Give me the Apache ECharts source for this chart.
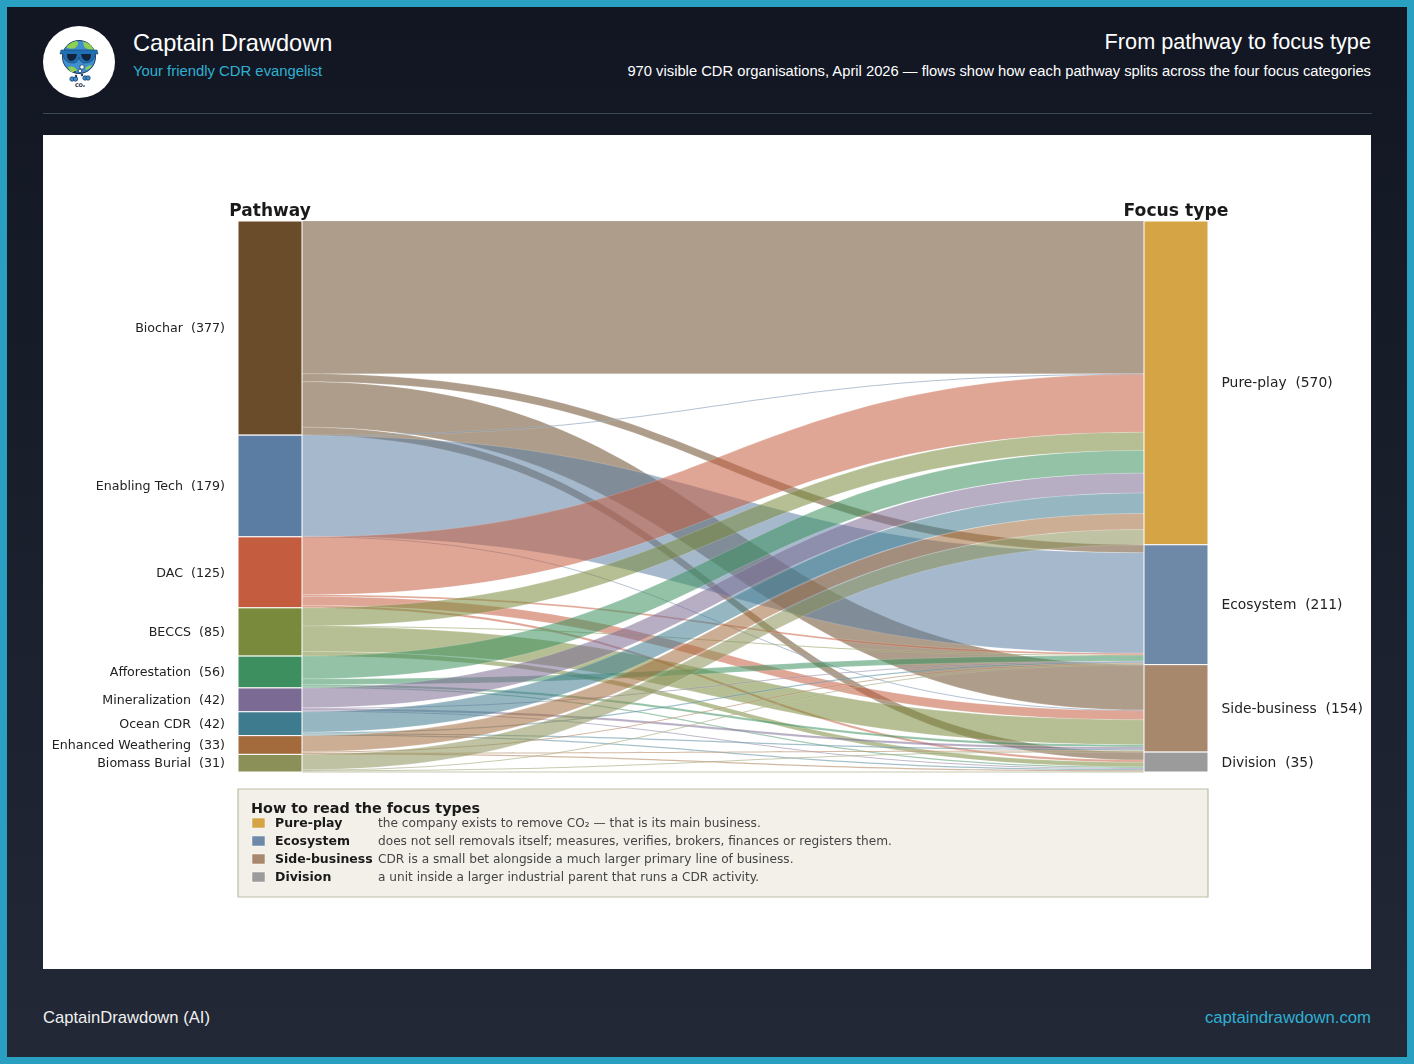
<!DOCTYPE html>
<html>
<head>
<meta charset="utf-8">
<title>From pathway to focus type</title>
<script src="https://cdn.jsdelivr.net/npm/echarts@6/dist/echarts.min.js"></script>
<style>
  html, body { margin: 0; padding: 0; }
  body { width: 1414px; height: 1064px; overflow: hidden; }
  #frame {
    position: relative; box-sizing: border-box; width: 1414px; height: 1064px;
    border: 7px solid #29a0c1;
    background: linear-gradient(180deg, #111622 0%, #222836 100%);
    font-family: "Liberation Sans", Arial, sans-serif;
  }
  #frame > div, #frame > svg { position: absolute; white-space: nowrap; }
  #logo { left: 36px; top: 19px; }
  #brand { left: 126px; top: 21px; font-size: 23.6px; line-height: 30px; color: #fff; }
  #tagline { left: 126px; top: 55px; font-size: 14.85px; line-height: 18px; color: #2fb0d2; }
  #title { right: 36px; top: 21px; font-size: 21.7px; line-height: 27px; color: #fff; }
  #subtitle { right: 36px; top: 55px; font-size: 14.75px; line-height: 18px; color: #fff; }
  #rule { left: 36px; top: 106px; width: 1329px; height: 1px; background: #3b4656; }
  #chart { left: 36px; top: 128px; width: 1328px; height: 834px; background: #fff; }
  #credit { left: 36px; top: 1001px; font-size: 16.6px; line-height: 20px; color: #f0f0f0; }
  #site { right: 36px; top: 1001px; font-size: 16.7px; line-height: 20px; color: #2fb0d2; }
</style>
</head>
<body>
<div id="frame">
  <svg id="logo" width="72" height="72" viewBox="0 0 72 72">
    <circle cx="36" cy="36" r="36" fill="#fff"/>
    <circle cx="36" cy="31" r="16.5" fill="#3f8fd0" stroke="#1d3f66" stroke-width="1"/>
    <path d="M23 21 q6 -6 11 -6 q3 3 -2 7 q-5 2 -9 -1z M40 15.5 q7 1 11 8 q-6 1 -10 -3z M25 41 q6 -2 9 3 q-3 4 -7 1z M42 42 q4 -3 7 -3 q-2 4 -6 5z" fill="#8fd14f"/>
    <path d="M18 24 h36 l1 4 h-3 q-1 9 -10 9 q-5 0 -6 -6 q-1 6 -6 6 q-9 0 -10 -9 h-3z" fill="#1f6fb5" stroke="#1d3f66" stroke-width=".6"/>
    <path d="M24 28 h10 q-1 7 -6 7 q-4 0 -4 -7z M38 28 h10 q0 7 -4 7 q-5 0 -6 -7z" fill="#14233c"/>
    <circle cx="39" cy="41" r="2.2" fill="#fff" stroke="#1d3f66" stroke-width=".8"/>
    <circle cx="37" cy="45" r="1.8" fill="#fff" stroke="#1d3f66" stroke-width=".8"/>
    <circle cx="32" cy="46" r="1" fill="#1d3f66"/>
    <circle cx="33" cy="50" r="1.2" fill="#1d3f66"/>
    <circle cx="39" cy="49" r="1.2" fill="#1d3f66"/>
    <circle cx="29" cy="53" r="2.2" fill="#3f8fd0" stroke="#1d3f66" stroke-width=".8"/>
    <circle cx="32.5" cy="53" r="2.2" fill="#3f8fd0" stroke="#1d3f66" stroke-width=".8"/>
    <circle cx="42" cy="52" r="2.2" fill="#3f8fd0" stroke="#1d3f66" stroke-width=".8"/>
    <circle cx="45" cy="52" r="2.2" fill="#3f8fd0" stroke="#1d3f66" stroke-width=".8"/>
    <text x="37" y="61" font-family="DejaVu Sans" font-size="5" font-weight="bold" text-anchor="middle" fill="#14233c">CO₂</text>
  </svg>
  <div id="brand">Captain Drawdown</div>
  <div id="tagline">Your friendly CDR evangelist</div>
  <div id="title">From pathway to focus type</div>
  <div id="subtitle">970 visible CDR organisations, April 2026 — flows show how each pathway splits across the four focus categories</div>
  <div id="rule"></div>
  <div id="chart"></div>
  <div id="credit">CaptainDrawdown (AI)</div>
  <div id="site">captaindrawdown.com</div>
</div>

<script>
var pathways = ['Biochar', 'Enabling Tech', 'DAC', 'BECCS', 'Afforestation', 'Mineralization', 'Ocean CDR', 'Enhanced Weathering', 'Biomass Burial'];
var focusTypes = ['Pure-play', 'Ecosystem', 'Side-business', 'Division'];

// organisations per pathway, same order as pathways
var toPurePlay = [269, 1, 102, 32, 40, 35, 36, 28, 27];
var toEcosystem = [14, 177, 3, 1, 10, 1, 2, 2, 1];
var toSideBusiness = [80, 1, 16, 44, 4, 4, 2, 1, 2];
var toDivision = [14, 0, 4, 8, 2, 2, 2, 2, 1];
var flows = [toPurePlay, toEcosystem, toSideBusiness, toDivision];

var pathwayColors = ['#6b4c2a', '#5b7da3', '#c45c40', '#7a8a3c', '#3d8f5f', '#7b6b94', '#3f7b8f', '#a36b3c', '#8a9058'];
var focusColors = ['#d4a445', '#6e88a8', '#a8886c', '#9b9b9b'];

var legendNotes = [
    'the company exists to remove CO₂ — that is its main business.',
    'does not sell removals itself; measures, verifies, brokers, finances or registers them.',
    'CDR is a small bet alongside a much larger primary line of business.',
    'a unit inside a larger industrial parent that runs a CDR activity.'
];

// panel starts at (43,135) on the page
var panelX = 43, panelY = 135;

var nodes = [];
pathways.forEach(function(name, i) {
    nodes.push({
        name: name,
        itemStyle: {color: pathwayColors[i]},
        label: {position: 'left', distance: 12.5, fontSize: 12.65}
    });
});
focusTypes.forEach(function(name, i) {
    nodes.push({
        name: name,
        itemStyle: {color: focusColors[i]},
        label: {position: 'right', distance: 13, fontSize: 13.85}
    });
});

var links = [];
pathways.forEach(function(source, i) {
    focusTypes.forEach(function(target, j) {
        if (flows[j][i] > 0) {
            links.push({source: source, target: target, value: flows[j][i]});
        }
    });
});

const pageText = function(x, y, text, font, fill, align) {
    return {
        type: 'text',
        x: x - panelX,
        y: y - panelY,
        silent: true,
        style: {text: text, font: font, fill: fill, align: align || 'left', verticalAlign: 'middle'}
    };
}

var graphics = [
    pageText(270, 212, 'Pathway', 'bold 17px "DejaVu Sans"', '#1a1a1a', 'center'),
    pageText(1176, 212, 'Focus type', 'bold 17.2px "DejaVu Sans"', '#1a1a1a', 'center'),
    {
        type: 'rect',
        x: 238 - panelX,
        y: 789 - panelY,
        silent: true,
        shape: {width: 970, height: 108},
        style: {fill: '#f3f0e9', stroke: '#bdbda8', lineWidth: 1.2}
    },
    pageText(251, 809, 'How to read the focus types', 'bold 14.4px "DejaVu Sans"', '#1a1a1a')
];

focusTypes.forEach(function(name, i) {
    var rowY = 823 + i * 18;
    graphics.push({
        type: 'rect',
        x: 252 - panelX,
        y: rowY - 5 - panelY,
        silent: true,
        shape: {width: 13, height: 10},
        style: {fill: focusColors[i], stroke: '#fff', lineWidth: 0.5}
    });
    graphics.push(pageText(275, rowY + 0.5, name, 'bold 12.5px "DejaVu Sans"', '#1a1a1a'));
    graphics.push(pageText(378, rowY + 0.5, legendNotes[i], '12.15px "DejaVu Sans"', '#444'));
});

var myChartObj = echarts.init(document.getElementById('chart'));
myChartObj.setOption({
    animation: false,
    backgroundColor: '#fff',
    graphic: graphics,
    series: [{
        type: 'sankey',
        left: 238 - panelX,
        top: 221 - panelY,
        width: 970,
        height: 551,
        nodeWidth: 64,
        nodeGap: 0,
        layoutIterations: 0,
        draggable: false,
        silent: true,
        emphasis: {disabled: true},
        data: nodes,
        links: links,
        itemStyle: {borderColor: '#fff', borderWidth: 1, opacity: 1},
        lineStyle: {color: 'source', opacity: 0.55, curveness: 0.5, borderColor: '#fff', borderWidth: 0.3},
        label: {
            show: true,
            color: '#222',
            fontFamily: 'DejaVu Sans',
            offset: [0, 1],
            formatter: function(params) {
                return params.name + '  (' + params.value + ')';
            }
        }
    }]
});
</script>
</body>
</html>
